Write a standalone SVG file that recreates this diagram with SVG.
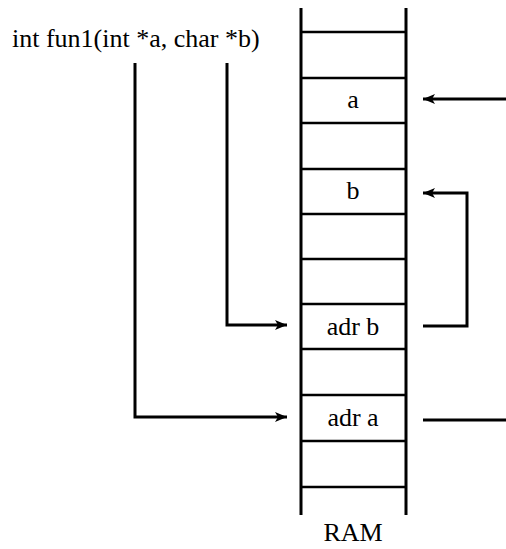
<svg xmlns="http://www.w3.org/2000/svg" width="506" height="549" viewBox="0 0 506 549">
  <style>
    .t { font-family: "Liberation Serif", "Times New Roman", serif; font-size: 26px; fill: #000; }
    .c { text-anchor: middle; }
    .ram { stroke: #000; stroke-width: 3; fill: none; }
    .cell { stroke: #000; stroke-width: 2.5; fill: none; }
    .conn { stroke: #000; stroke-width: 3; fill: none; }
  </style>
  <defs>
    <marker id="arr" markerUnits="userSpaceOnUse" markerWidth="14" markerHeight="12" refX="12" refY="5" orient="auto">
      <path d="M0,0 L12,5 L0,10 L3,5 z" fill="#000"/>
    </marker>
  </defs>

  <g id="signature">
    <text class="t" x="12" y="47">int fun1(int *a, char *b)</text>
  </g>

  <g id="ram">
    <line class="ram" x1="301" y1="8" x2="301" y2="515"/>
    <line class="ram" x1="406" y1="8" x2="406" y2="515"/>
    <line class="cell" x1="301" y1="32" x2="406" y2="32"/>
    <line class="cell" x1="301" y1="78" x2="406" y2="78"/>
    <line class="cell" x1="301" y1="123" x2="406" y2="123"/>
    <line class="cell" x1="301" y1="169" x2="406" y2="169"/>
    <line class="cell" x1="301" y1="214" x2="406" y2="214"/>
    <line class="cell" x1="301" y1="259" x2="406" y2="259"/>
    <line class="cell" x1="301" y1="304" x2="406" y2="304"/>
    <line class="cell" x1="301" y1="349" x2="406" y2="349"/>
    <line class="cell" x1="301" y1="395" x2="406" y2="395"/>
    <line class="cell" x1="301" y1="441" x2="406" y2="441"/>
    <line class="cell" x1="301" y1="487" x2="406" y2="487"/>
    <text class="t c" x="353" y="541">RAM</text>
  </g>

  <g id="cell-a"><text class="t c" x="353" y="108">a</text></g>
  <g id="cell-b"><text class="t c" x="353" y="199">b</text></g>
  <g id="cell-adr-b"><text class="t c" x="353" y="335">adr b</text></g>
  <g id="cell-adr-a"><text class="t c" x="353" y="426">adr a</text></g>

  <g id="connectors">
    <path class="conn" d="M135,63 L135,417 L287,417" marker-end="url(#arr)"/>
    <path class="conn" d="M227,63 L227,325 L287,325" marker-end="url(#arr)"/>
    <path class="conn" d="M506,99 L423,99" marker-end="url(#arr)"/>
    <path class="conn" d="M423,326 L467,326 L467,193 L423,193" marker-end="url(#arr)"/>
    <path class="conn" d="M423,420 L506,420"/>
  </g>
</svg>
